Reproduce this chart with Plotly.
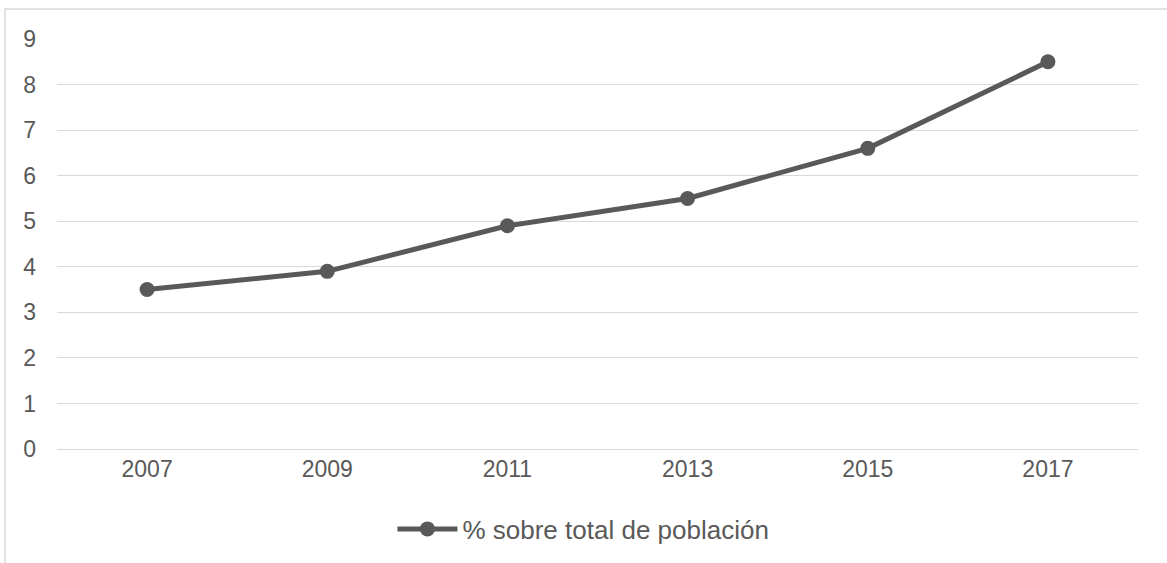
import plotly.graph_objects as go

years = ["2007", "2009", "2011", "2013", "2015", "2017"]
values = [3.5, 3.9, 4.9, 5.5, 6.6, 8.5]
series_name = "% sobre total de población"
y_ticks = [0, 1, 2, 3, 4, 5, 6, 7, 8, 9]

fig = go.Figure()
fig.add_trace(go.Scatter(
    x=years, y=values, mode="lines+markers", name=series_name,
    line=dict(color="#595959", width=5),
    marker=dict(color="#595959", size=15),
))

W, H = 1167, 563
ml, mr, mt, mb = 57, 29, 39, 114
pw, ph = W - ml - mr, H - mt - mb

fig.update_layout(
    width=W, height=H,
    margin=dict(l=ml, r=mr, t=mt, b=mb, autoexpand=False),
    paper_bgcolor="white", plot_bgcolor="white",
    font=dict(family="Liberation Sans, Arial, sans-serif", size=23, color="#595959"),
    showlegend=True,
    legend=dict(orientation="h", x=0.487, xanchor="center", y=(449 - 529) / ph,
                yanchor="middle", font=dict(size=26, color="#595959"),
                itemwidth=60),
    xaxis=dict(type="category", range=[-0.5, 5.5], showgrid=False, zeroline=False,
               showline=False, ticks="", ticklabelstandoff=4, automargin=False),
    yaxis=dict(range=[0, 9], tickvals=y_ticks, showgrid=True, gridcolor="#d9d9d9",
               gridwidth=1.3, zeroline=True, zerolinecolor="#d9d9d9", zerolinewidth=1.3,
               showline=False, ticks="", ticklabelstandoff=20, automargin=False),
    shapes=[dict(type="rect", xref="paper", yref="paper",
                 x0=(5 - ml) / pw, x1=1.2, y0=-0.6, y1=1 + (mt - 9) / ph,
                 line=dict(color="#d9d9d9", width=1.5), layer="below")],
)

fig.write_html("out.html")
